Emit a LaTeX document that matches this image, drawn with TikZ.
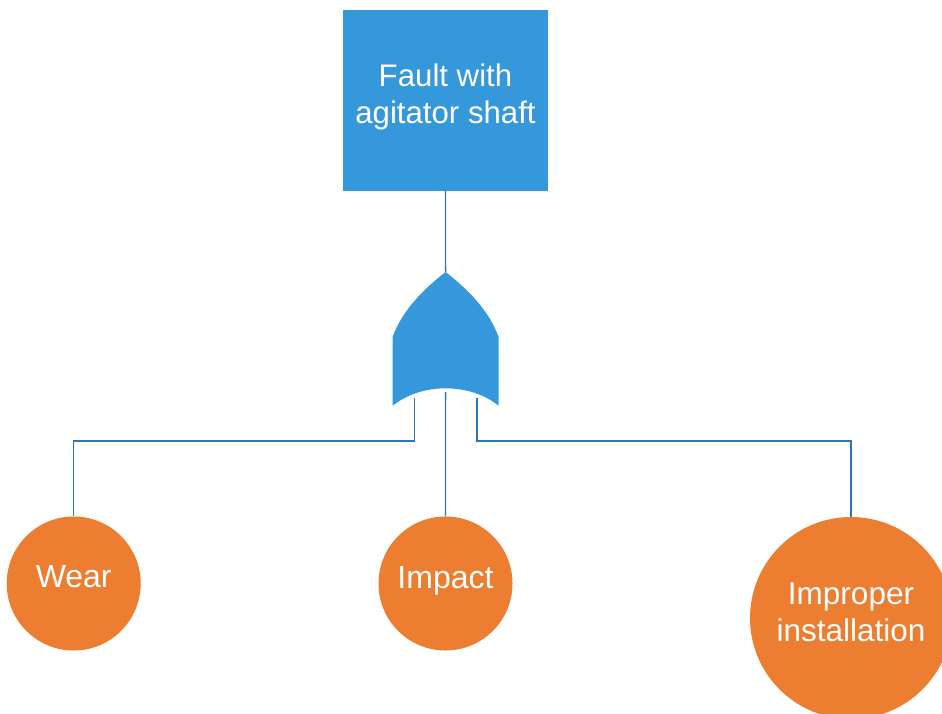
\documentclass[tikz,border=0pt]{standalone}
\usepackage{fontspec}
\setmainfont{Liberation Sans}
\definecolor{boxblue}{RGB}{52,152,219}
\definecolor{linkblue}{RGB}{46,117,182}
\definecolor{evorange}{RGB}{237,125,49}
% invisible rule that deepens the last text line, lifting the text block
\newcommand{\textlift}[1]{\rule[-#1]{0pt}{0pt}}
\begin{document}
\begin{tikzpicture}[x=1pt,y=-1pt,
  link/.style={draw=linkblue, line width=1.3pt},
  topevent/.style={rectangle, fill=boxblue, minimum width=205pt, minimum height=181pt,
    inner sep=0pt, text=white, align=center, font=\fontsize{31.2}{37}\selectfont},
  basicevent/.style={circle, fill=evorange, inner sep=0pt, text=white, align=center,
    font=\fontsize{32}{38}\selectfont},
  orgate/.style={fill=boxblue}
]
\useasboundingbox (0,0) rectangle (942,713);

% top event
\node[topevent] (top) at (445.5,100.5) {Fault with\\agitator shaft\textlift{14pt}};

% basic events
\node[basicevent, minimum size=134pt, text depth=14pt] (wear) at (73.7,583.5) {Wear};
\node[basicevent, minimum size=134pt, text height=23pt, text depth=14pt] (impact) at (445.5,583.5) {Impact};
\node[basicevent, minimum size=202pt, font=\fontsize{31.5}{37}\selectfont] (improper) at (851,618) {Improper\\installation\textlift{12pt}};

% OR gate connection points
\coordinate (gtip) at (445.6,272);
\coordinate (gin1) at (414.3,398);
\coordinate (gin2) at (445.6,392);
\coordinate (gin3) at (477,398);

% connectors
\draw[link] (top.south) -- (gtip);
\draw[link] (gin1) -- ++(0,43) -| (wear.north);
\draw[link] (gin2) -- (impact.north);
\draw[link] (gin3) -- ++(0,43) -| (improper.north);

% OR gate body: ogive top, concave input side
\fill[orgate] (392.7,405.7) -- (392.7,336.7)
  .. controls (402.3,310.4) and (423.4,289.2) .. (gtip)
  .. controls (467.8,289.2) and (488.9,310.4) .. (498.5,336.7)
  -- (498.5,405.7)
  .. controls (470,382.5) and (421.5,382.5) .. (392.7,405.7) -- cycle;
\end{tikzpicture}
\end{document}
